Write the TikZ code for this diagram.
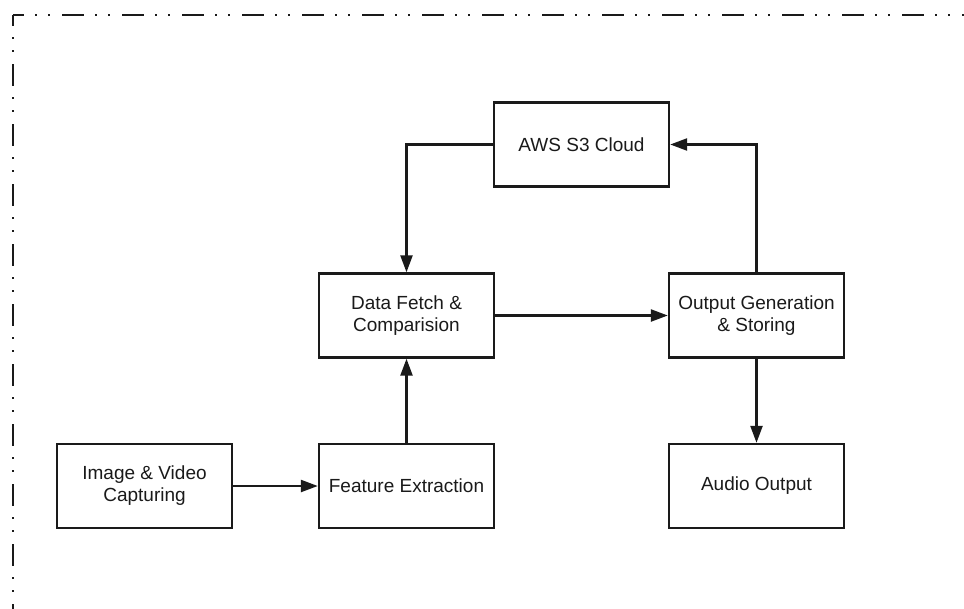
\documentclass[tikz,border=0pt]{standalone}
\usepackage{fontspec}
\setmainfont{Liberation Sans}
\usetikzlibrary{arrows.meta}
\definecolor{ink}{HTML}{1A1A1A}
\tikzset{
  stagebox/.style={draw=ink, line width=2.4pt, minimum width=175pt, minimum height=84pt,
    inner sep=0pt, align=center, text=ink, font=\fontsize{19}{22}\selectfont},
  flow/.style={draw=ink, line width=2.4pt, -{Triangle[length=17pt,width=12pt]}},
  frame/.style={draw=ink, line width=2.2pt,
    dash pattern=on 22pt off 11pt on 2pt off 11pt on 2pt off 12pt, dash phase=11pt}
}
\begin{document}
\begin{tikzpicture}[x=1pt,y=-1pt]
  \useasboundingbox (0,0) rectangle (964,608);
  \fill[white] (0,0) rectangle (964,608);

  % outer dash-dot-dot frame (top and left edges)
  \coordinate (corner) at (13,15);
  \coordinate (topend) at (970,15);
  \coordinate (leftend) at (13,615);
  \draw[frame] (corner) -- (topend);
  \draw[frame] (corner) -- (leftend);

  % stages
  \node[stagebox] (aws)   at (581.5,144.5) {AWS S3 Cloud};
  \node[stagebox] (fetch) at (406.5,315.5) {Data Fetch \&\\Comparision};
  \node[stagebox] (gen)   at (756.5,315.5) {Output Generation\\\& Storing};
  \node[stagebox] (cap)   at (144.5,486)   {Image \& Video\\Capturing};
  \node[stagebox] (feat)  at (406.5,486)   {Feature Extraction};
  \node[stagebox] (audio) at (756.5,486)   {Audio Output};

  % connectors
  \draw[flow] (aws.west) -| (fetch.north);
  \draw[flow] (gen.north) |- (aws.east);
  \draw[flow] (fetch.east) -- (gen.west);
  \draw[flow] (feat.north) -- (fetch.south);
  \draw[flow] (cap.east) -- (feat.west);
  \draw[flow] (gen.south) -- (audio.north);
\end{tikzpicture}
\end{document}
